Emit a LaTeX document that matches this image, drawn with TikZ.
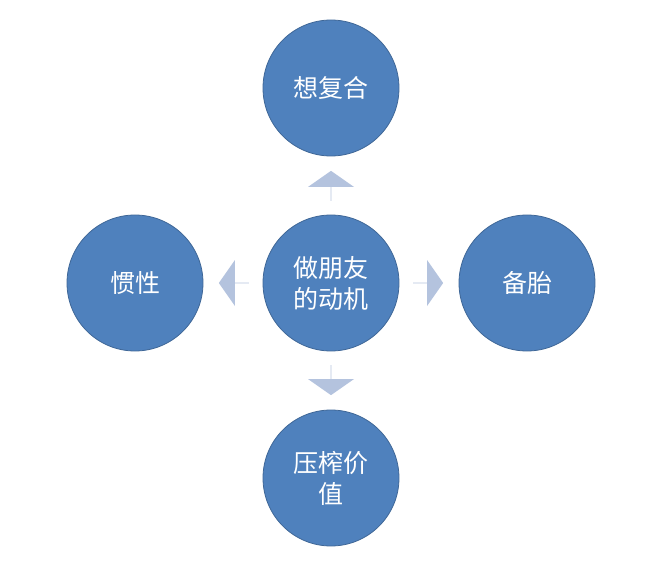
\documentclass[tikz,border=0pt]{standalone}
\usepackage{fontspec}
\newfontfamily\cjk{Noto Sans CJK SC}
\usetikzlibrary{shapes.arrows}
\definecolor{circ}{HTML}{4F81BD}
\definecolor{arr}{HTML}{B4C3DE}
\tikzset{
  bub/.style={circle, fill=circ, draw=circ!80!black, line width=0.8pt, minimum size=136pt, inner sep=0pt, text=white, font=\cjk\fontsize{25}{31}\selectfont, align=center},
  blk/.style={single arrow, fill=arr, draw=none, minimum width=46pt, minimum height=30pt, single arrow head extend=10pt, single arrow tip angle=110, inner sep=0pt}
}
\begin{document}
\begin{tikzpicture}[x=1pt,y=-1pt]
\useasboundingbox (0,0) rectangle (662,567);
\node[bub] (c) at (331,283) {做朋友\\的动机};
\node[bub] (t) at (331,88) {想复合};
\node[bub] (l) at (135,283) {惯性};
\node[bub] (r) at (527,283) {备胎};
\node[bub] (b) at (331,478) {压榨价\\值};
\node[blk, shape border rotate=90] (at) at (331,186) {};
\node[blk, shape border rotate=180] (al) at (234,283) {};
\node[blk, shape border rotate=0] (ar) at (428,283) {};
\node[blk, shape border rotate=270] (ab) at (331,380) {};
\end{tikzpicture}
\end{document}
